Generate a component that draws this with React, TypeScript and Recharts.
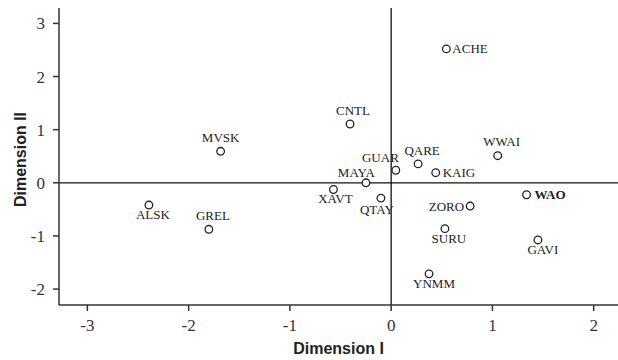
import { ScatterChart, Scatter, XAxis, YAxis, ReferenceLine } from 'recharts';

const groups = ['ACHE', 'CNTL', 'WWAI', 'QARE', 'GUAR', 'KAIG', 'MVSK', 'MAYA', 'XAVT', 'QTAY', 'ZORO', 'WAO', 'SURU', 'GAVI', 'YNMM', 'ALSK', 'GREL'];
const dimension1 = [0.545, -0.406, 1.052, 0.266, 0.046, 0.44, -1.684, -0.249, -0.57, -0.101, 0.78, 1.337, 0.531, 1.449, 0.374, -2.392, -1.8];
const dimension2 = [2.52, 1.107, 0.51, 0.356, 0.236, 0.19, 0.593, 0.0, -0.126, -0.288, -0.438, -0.225, -0.863, -1.076, -1.714, -0.419, -0.875];
const xTicks = [-3, -2, -1, 0, 1, 2];
const yTicks = [-2, -1, 0, 1, 2, 3];

const points = groups.map((name, i) => ({ name, x: dimension1[i], y: dimension2[i] }));

// where each label sits relative to its marker
const labelPlace: Record<string, { dx: number; dy: number; anchor: 'start' | 'middle' | 'end' }> = {
  ACHE: { dx: 6, dy: 0, anchor: 'start' },
  CNTL: { dx: 3, dy: -9, anchor: 'middle' },
  WWAI: { dx: 4, dy: -10, anchor: 'middle' },
  QARE: { dx: 4, dy: -9, anchor: 'middle' },
  GUAR: { dx: 3, dy: -8, anchor: 'end' },
  KAIG: { dx: 7, dy: 0, anchor: 'start' },
  MVSK: { dx: 0, dy: -9, anchor: 'middle' },
  MAYA: { dx: 9, dy: -6, anchor: 'end' },
  XAVT: { dx: 2, dy: 14, anchor: 'middle' },
  QTAY: { dx: -4, dy: 16, anchor: 'middle' },
  ZORO: { dx: -6, dy: 0, anchor: 'end' },
  WAO: { dx: 8, dy: 0, anchor: 'start' },
  SURU: { dx: 4, dy: 14, anchor: 'middle' },
  GAVI: { dx: 5, dy: 14, anchor: 'middle' },
  YNMM: { dx: 5, dy: 14, anchor: 'middle' },
  ALSK: { dx: 4, dy: 14, anchor: 'middle' },
  GREL: { dx: 4, dy: -9, anchor: 'middle' },
};

const serif = '"Liberation Serif", "Times New Roman", serif';
const sans = '"Liberation Sans", Arial, sans-serif';

const PointMark = (props: any) => {
  const { cx, cy, payload } = props;
  const p = labelPlace[payload.name] || { dx: 0, dy: -9, anchor: 'middle' };
  const bold = payload.name === 'WAO';
  return (
    <g>
      <circle cx={cx} cy={cy} r={3.8} fill="#fff" stroke="#222" strokeWidth={1.3} />
      <text
        x={cx + p.dx}
        y={cy + p.dy}
        textAnchor={p.anchor}
        dominantBaseline={p.dy === 0 ? 'central' : 'auto'}
        fontFamily={serif}
        fontSize={13}
        fontWeight={bold ? 'bold' : 'normal'}
        fill="#222"
      >
        {payload.name}
      </text>
    </g>
  );
};

const YTitle = (props: any) => {
  const vb = props.viewBox || { y: 8, height: 297 };
  const cx = 20;
  const cy = vb.y + vb.height / 2 + 3;
  return (
    <text x={cx} y={cy} transform={`rotate(-90 ${cx} ${cy})`} textAnchor="middle" dominantBaseline="central"
      fontFamily={sans} fontSize={16} fontWeight="bold" fill="#222">
      Dimension II
    </text>
  );
};

export default function App() {
  const tickStyle = { fontFamily: serif, fontSize: 17, fill: '#333' };
  const lineStyle = { stroke: '#333', strokeWidth: 1.5 };
  return (
    <div style={{ position: 'absolute', left: 0, top: 0, background: '#fff' }}>
      <ScatterChart width={618} height={360} margin={{ top: 8, right: 0, bottom: 0, left: 0 }}>
        <XAxis
          type="number"
          dataKey="x"
          domain={[-3.28, 2.24]}
          ticks={xTicks}
          allowDataOverflow
          height={55}
          tickSize={6}
          tickMargin={8}
          tick={tickStyle}
          axisLine={lineStyle}
          tickLine={lineStyle}
          label={{ value: 'Dimension I', position: 'insideBottom', offset: 6, style: { fontFamily: sans, fontSize: 16, fontWeight: 'bold', fill: '#222' } }}
        />
        <XAxis xAxisId="top" orientation="top" type="number" domain={[-3.28, 2.24]} height={0} tick={false} tickLine={false} axisLine={lineStyle} />
        <YAxis
          type="number"
          dataKey="y"
          domain={[-2.3, 3.29]}
          ticks={yTicks}
          allowDataOverflow
          width={59}
          tickSize={6}
          tickMargin={8}
          tick={tickStyle}
          axisLine={lineStyle}
          tickLine={lineStyle}
          label={<YTitle />}
        />
        <ReferenceLine x={0} stroke="#111" strokeWidth={1.3} />
        <ReferenceLine y={0} stroke="#111" strokeWidth={1.3} />
        <Scatter data={points} shape={<PointMark />} isAnimationActive={false} />
      </ScatterChart>
    </div>
  );
}
